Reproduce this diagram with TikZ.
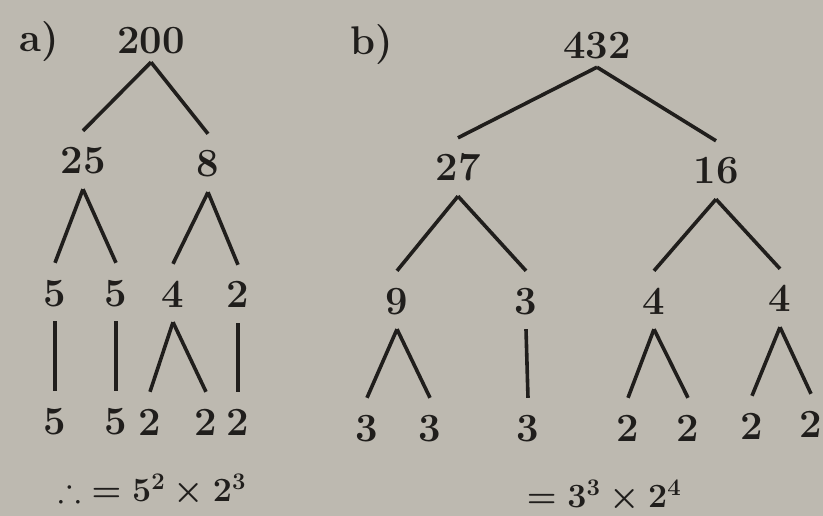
\RequirePackage{fix-cm}
\documentclass[tikz,border=0pt]{standalone}
\usepackage{amssymb}
\definecolor{paper}{RGB}{189,185,176}
\definecolor{ink}{RGB}{32,30,28}
\begin{document}
\begin{tikzpicture}[x=1pt,y=-1pt,
  num/.style={font=\fontsize{40}{48}\selectfont\bfseries, text=ink, inner xsep=0pt, inner ysep=15pt, text height=28pt, text depth=0pt},
  topnum/.style={num, inner ysep=8pt},
  lbl/.style={font=\fontsize{40}{48}\selectfont\bfseries, text=ink, inner sep=0pt},
  res/.style={font=\fontsize{34}{42}\selectfont\boldmath, text=ink, inner sep=0pt},
  edge/.style={draw=ink, line width=3.6pt}]
\fill[paper] (0,0) rectangle (823,516);
\useasboundingbox (0,0) rectangle (823,516);
% ---------- a) ----------
\node[lbl] (la) at (39,42) {a)};
\node[topnum] (a0) at (151,40) {200};
\node[num] (a1) at (83,160) {25};
\node[num] (a2) at (208,163) {8};
\node[num] (a3) at (55,292) {5};
\node[num] (a4) at (116,292) {5};
\node[num] (a5) at (173,293) {4};
\node[num] (a6) at (238,294) {2};
\node[num] (a7) at (55,420) {5};
\node[num] (a8) at (116,420) {5};
\node[num] (a9) at (150,421) {2};
\node[num] (a10) at (206,421) {2};
\node[num] (a11) at (238,421) {2};
\draw[edge] (a0.south) -- (a1.north);
\draw[edge] (a0.south) -- (a2.north);
\draw[edge] (a1.south) -- (a3.north);
\draw[edge] (a1.south) -- (a4.north);
\draw[edge] (a2.south) -- (a5.north);
\draw[edge] (a2.south) -- (a6.north);
\draw[edge] (a3.south) -- (a7.north);
\draw[edge] (a4.south) -- (a8.north);
\draw[edge] (a5.south) -- (a9.north);
\draw[edge] (a5.south) -- (a10.north);
\draw[edge] (a6.south) -- (a11.north);
\node[res] (ra) at (152,490) {$\therefore\; = 5^2 \times 2^3$};
% ---------- b) ----------
\node[lbl] (lb) at (372,45) {b)};
\node[topnum] (b0) at (597,45) {432};
\node[num] (b1) at (458,167) {27};
\node[num] (b2) at (716,170) {16};
\node[num] (b3) at (397,300) {9};
\node[num] (b4) at (526,300) {3};
\node[num] (b5) at (654,300) {4};
\node[num] (b6) at (780,298) {4};
\node[num] (b7) at (367,427) {3};
\node[num] (b8) at (430,427) {3};
\node[num] (b9) at (528,427) {3};
\node[num] (b10) at (628,427) {2};
\node[num] (b11) at (688,427) {2};
\node[num] (b12) at (752,425) {2};
\node[num] (b13) at (811,423) {2};
\draw[edge] (b0.south) -- (b1.north);
\draw[edge] (b0.south) -- (b2.north);
\draw[edge] (b1.south) -- (b3.north);
\draw[edge] (b1.south) -- (b4.north);
\draw[edge] (b2.south) -- (b5.north);
\draw[edge] (b2.south) -- (b6.north);
\draw[edge] (b3.south) -- (b7.north);
\draw[edge] (b3.south) -- (b8.north);
\draw[edge] (b4.south) -- (b9.north);
\draw[edge] (b5.south) -- (b10.north);
\draw[edge] (b5.south) -- (b11.north);
\draw[edge] (b6.south) -- (b12.north);
\draw[edge] (b6.south) -- (b13.north);
\node[res] (rb) at (604,496) {$= 3^3 \times 2^4$};
\end{tikzpicture}
\end{document}
